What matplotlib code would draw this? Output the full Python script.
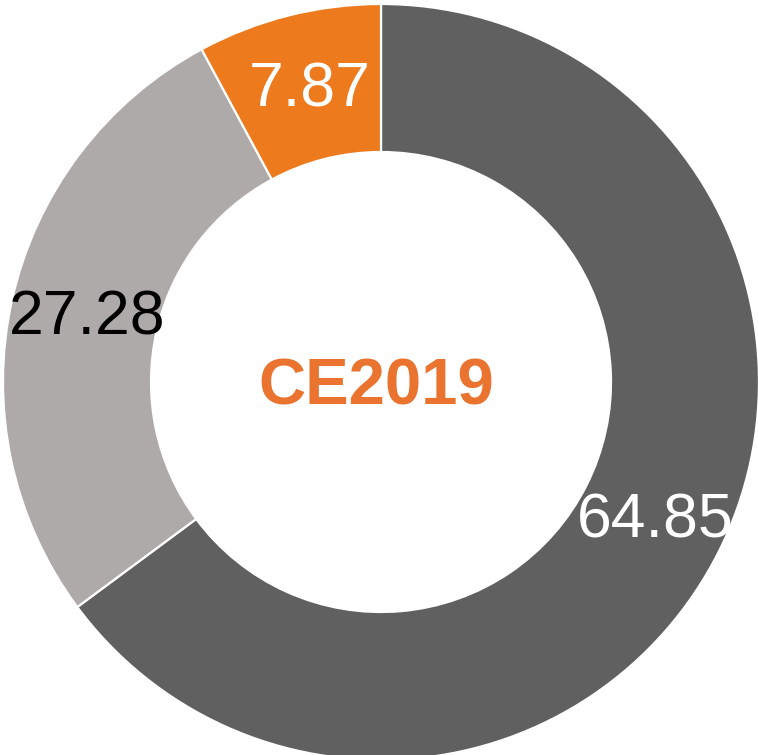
import matplotlib
matplotlib.use("Agg")
import matplotlib.pyplot as plt
import numpy as np

plt.rcParams['font.family'] = ['Liberation Sans', 'DejaVu Sans']

values = [64.85, 27.28, 7.87]
labels = ["64.85", "27.28", "7.87"]
colors = ["#606060", "#AEAAAA", "#EE7A1E"]
label_colors = ["white", "black", "white"]
center_text = "CE2019"

W, H = 758, 755
fig = plt.figure(figsize=(W / 100, H / 100), dpi=100)
ax = fig.add_axes([0, 0, 1, 1])

cx, cy = 381, H - 382
R = 378
width = 148

wedges, _ = ax.pie(values, colors=colors, startangle=90, counterclock=False,
                   center=(cx, cy), radius=R,
                   wedgeprops=dict(width=width, edgecolor="white", linewidth=1.6))

rl = R - width / 2
for w, lab, lc in zip(wedges, labels, label_colors):
    mid = np.deg2rad((w.theta1 + w.theta2) / 2)
    ax.text(cx + rl * np.cos(mid) + 3, cy + rl * np.sin(mid) + 4, lab,
            ha="center", va="center_baseline", fontsize=45, color=lc)

ax.text(cx - 5, cy + 1, center_text, ha="center", va="center_baseline",
        fontsize=47, fontweight="bold", color="#E9732F")

ax.set_xlim(0, W)
ax.set_ylim(0, H)
ax.set_aspect("equal")
ax.axis("off")

fig.savefig("out.png", dpi=100)
